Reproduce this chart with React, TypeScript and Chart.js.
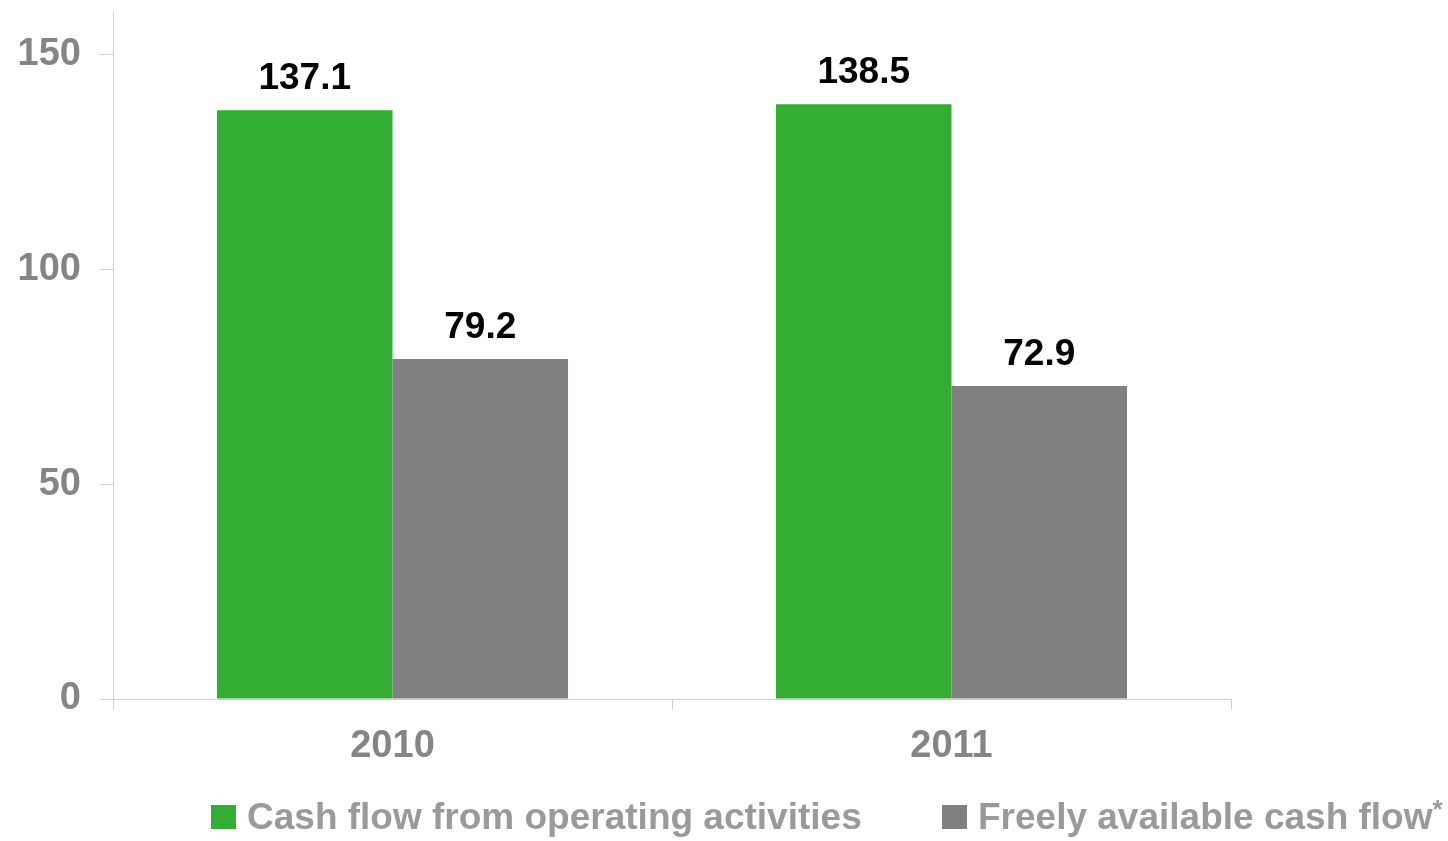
import React, { useEffect, useRef } from "react";
import { Chart, registerables } from "chart.js";

Chart.register(...registerables);

const categories = ["2010", "2011"];
const operatingCashFlow = [137.1, 138.5];
const freeCashFlow = [79.2, 72.9];
const seriesLabels = ["Cash flow from operating activities", "Freely available cash flow"];
const yTicks = [0, 50, 100, 150];

const GREEN = "#34ad35";
const GRAY = "#808080";
const AXIS = "#d0d0d0";
const FONT = "'Liberation Sans', Arial, sans-serif";

const valueLabels = {
  id: "valueLabels",
  afterDatasetsDraw(chart: any) {
    const ctx = chart.ctx;
    ctx.save();
    ctx.font = `bold 37px ${FONT}`;
    ctx.fillStyle = "#000";
    ctx.textAlign = "center";
    ctx.textBaseline = "alphabetic";
    chart.data.datasets.forEach((ds: any, i: number) => {
      const meta = chart.getDatasetMeta(i);
      meta.data.forEach((bar: any, j: number) => {
        ctx.fillText(Number(ds.data[j]).toFixed(1), bar.x, bar.y - 21);
      });
    });
    ctx.restore();
  },
};

export default function App() {
  const ref = useRef<HTMLCanvasElement | null>(null);
  useEffect(() => {
    if (!ref.current) return;
    const chart = new Chart(ref.current, {
      type: "bar",
      data: {
        labels: categories,
        datasets: [
          { label: seriesLabels[0], data: operatingCashFlow, backgroundColor: GREEN },
          { label: seriesLabels[1], data: freeCashFlow, backgroundColor: GRAY },
        ],
      },
      options: {
        animation: false,
        responsive: true,
        maintainAspectRatio: false,
        layout: { padding: { left: 0, top: 12, right: 217, bottom: 52 } },
        datasets: { bar: { categoryPercentage: 0.628, barPercentage: 1 } },
        plugins: { legend: { display: false }, tooltip: { enabled: false } },
        scales: {
          x: {
            offset: true,
            grid: { offset: true, drawOnChartArea: false, color: AXIS, tickLength: 11, lineWidth: 1 },
            border: { color: AXIS, width: 1 },
            ticks: { color: "#858585", font: { family: FONT, size: 38, weight: "bold" }, padding: 14 },
            afterFit: (s: any) => {
              s.height = 90;
              s.paddingLeft = 0;
              s.paddingRight = 0;
            },
          },
          y: {
            min: 0,
            max: 160,
            grid: { drawOnChartArea: false, color: AXIS, tickLength: 13, lineWidth: 1 },
            border: { color: AXIS, width: 1 },
            ticks: { stepSize: 50, color: "#858585", font: { family: FONT, size: 38, weight: "bold" }, padding: 19 },
            afterBuildTicks: (s: any) => {
              s.ticks = yTicks.map((v) => ({ value: v }));
            },
            afterFit: (s: any) => {
              s.width = 113;
              s.paddingTop = 0;
              s.paddingBottom = 0;
            },
          },
        },
      } as any,
      plugins: [valueLabels],
    });
    return () => chart.destroy();
  }, []);

  const legendText: React.CSSProperties = {
    fontFamily: FONT,
    fontWeight: "bold",
    fontSize: 37,
    color: "#9a9a9a",
    lineHeight: "40px",
    whiteSpace: "nowrap",
  };
  const box = (c: string): React.CSSProperties => ({
    width: 25,
    height: 24,
    background: c,
    marginRight: 11,
    flex: "none",
  });

  return (
    <div style={{ position: "absolute", left: 0, top: 0, width: 1448, height: 841, background: "#fff" }}>
      <canvas ref={ref} />
      <div style={{ position: "absolute", left: 211, top: 797, display: "flex", alignItems: "center" }}>
        <div style={box(GREEN)} />
        <span style={legendText}>{seriesLabels[0]}</span>
      </div>
      <div style={{ position: "absolute", left: 942, top: 797, display: "flex", alignItems: "center" }}>
        <div style={box(GRAY)} />
        <span style={legendText}>
          {seriesLabels[1]}
          <sup style={{ fontSize: 26, verticalAlign: "top", position: "relative", top: -8 }}>*</sup>
        </span>
      </div>
    </div>
  );
}
